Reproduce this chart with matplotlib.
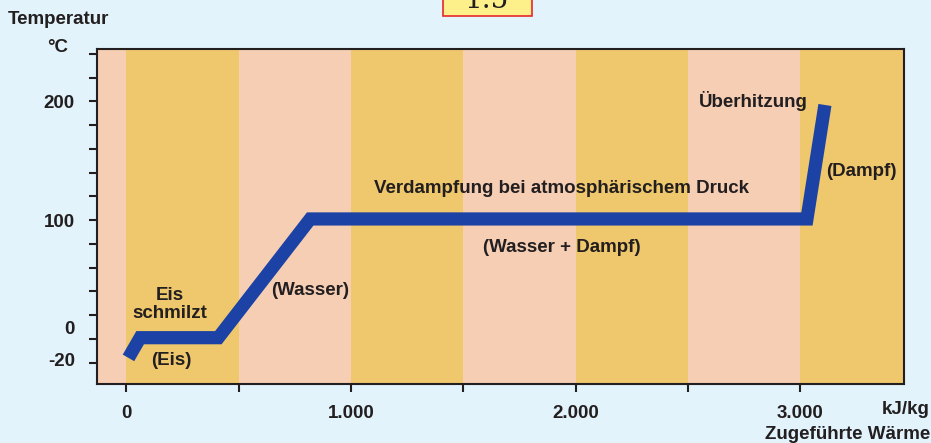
import matplotlib.pyplot as plt
import matplotlib.transforms as mtransforms
from matplotlib.patches import Rectangle
from matplotlib.ticker import FixedLocator, MultipleLocator

plt.rcParams["font.family"] = ["Liberation Sans", "DejaVu Sans"]

# heating curve of water: supplied heat (kJ/kg) vs temperature (°C)
heat = [10, 62, 410, 819, 3030, 3110]
temp = [-16, 1, 1, 101, 101, 197]

x_ticks = [0, 1000, 2000, 3000]
x_tick_labels = ["0", "1.000", "2.000", "3.000"]
y_ticks = [-20, 0, 100, 200]
y_tick_labels = ["-20", "0", "100", "200"]

band_edges = [-130, 0, 500, 1000, 1500, 2000, 2500, 3000, 3470]

annotations = [
    ("Eis\nschmilzt", 196, 29),
    ("(Eis)", 200, -18),
    ("(Wasser)", 819, 41),
    ("Verdampfung bei atmosphärischem Druck", 1936, 127),
    ("(Wasser + Dampf)", 1940, 77),
    ("Überhitzung", 2790, 200),
    ("(Dampf)", 3271, 141),
]

yellow = "#efc76c"
pink = "#f5ceb4"
ink = "#231f20"
fs = 13.5

fig = plt.figure(figsize=(9.31, 4.43), dpi=100, facecolor="#e2f3fb")
ax = fig.add_axes([0.1042, 0.1332, 0.8668, 0.7558])

for i in range(len(band_edges) - 1):
    color = pink if i % 2 == 0 else yellow
    ax.axvspan(band_edges[i], band_edges[i + 1], color=color, lw=0, zorder=0)

ax.plot(heat, temp, color="#1b42a4", lw=9.5, solid_joinstyle="miter",
        solid_capstyle="butt", zorder=3)

for text, x, y in annotations:
    ax.text(x, y, text, ha="center", va="center", fontsize=fs,
            fontweight="bold", color=ink, linespacing=1.05, zorder=4)

ax.set_xlim(-130, 3462)
ax.set_ylim(-38, 244)

ax.xaxis.set_major_locator(FixedLocator(x_ticks))
ax.set_xticklabels(x_tick_labels)
ax.xaxis.set_minor_locator(MultipleLocator(500))
ax.yaxis.set_major_locator(FixedLocator(y_ticks))
ax.set_yticklabels(y_tick_labels)
ax.yaxis.set_minor_locator(MultipleLocator(20))

ax.tick_params(which="both", direction="out", length=6, width=1.5, color=ink)
ax.tick_params(axis="y", pad=10, labelsize=fs)
ax.tick_params(axis="x", pad=9, labelsize=fs)
for lab in ax.get_xticklabels() + ax.get_yticklabels():
    lab.set_fontweight("bold")
    lab.set_color(ink)

# the labels "0" and "-20" sit a little above their ticks in the original
ylabels = ax.get_yticklabels()
for lab, dy in zip(ylabels[:2], [3, 11]):
    lab.set_transform(lab.get_transform() +
                      mtransforms.ScaledTranslation(0, dy / 100, fig.dpi_scale_trans))

for s in ax.spines.values():
    s.set_linewidth(1.5)
    s.set_color(ink)

fig.text(0.008, 0.955, "Temperatur", fontsize=fs, fontweight="bold",
         color=ink, va="center", ha="left")
fig.text(0.062, 0.892, "°C", fontsize=fs, fontweight="bold",
         color=ink, va="center", ha="center")
fig.text(0.999, 0.075, "kJ/kg", fontsize=fs, fontweight="bold",
         color=ink, va="center", ha="right")
fig.text(0.999, 0.02, "Zugeführte Wärme", fontsize=fs, fontweight="bold",
         color=ink, va="center", ha="right")

# cut-off page marker at the top
fig.add_artist(Rectangle((0.476, 0.964), 0.0956, 0.06, transform=fig.transFigure,
                         fc="#fdf08a", ec="#e8262b", lw=1.2))
fig.text(0.523, 0.982, "1.5", fontsize=20, family="DejaVu Serif",
         ha="center", va="baseline", color=ink)

fig.savefig("out.png", dpi=100, facecolor=fig.get_facecolor())
